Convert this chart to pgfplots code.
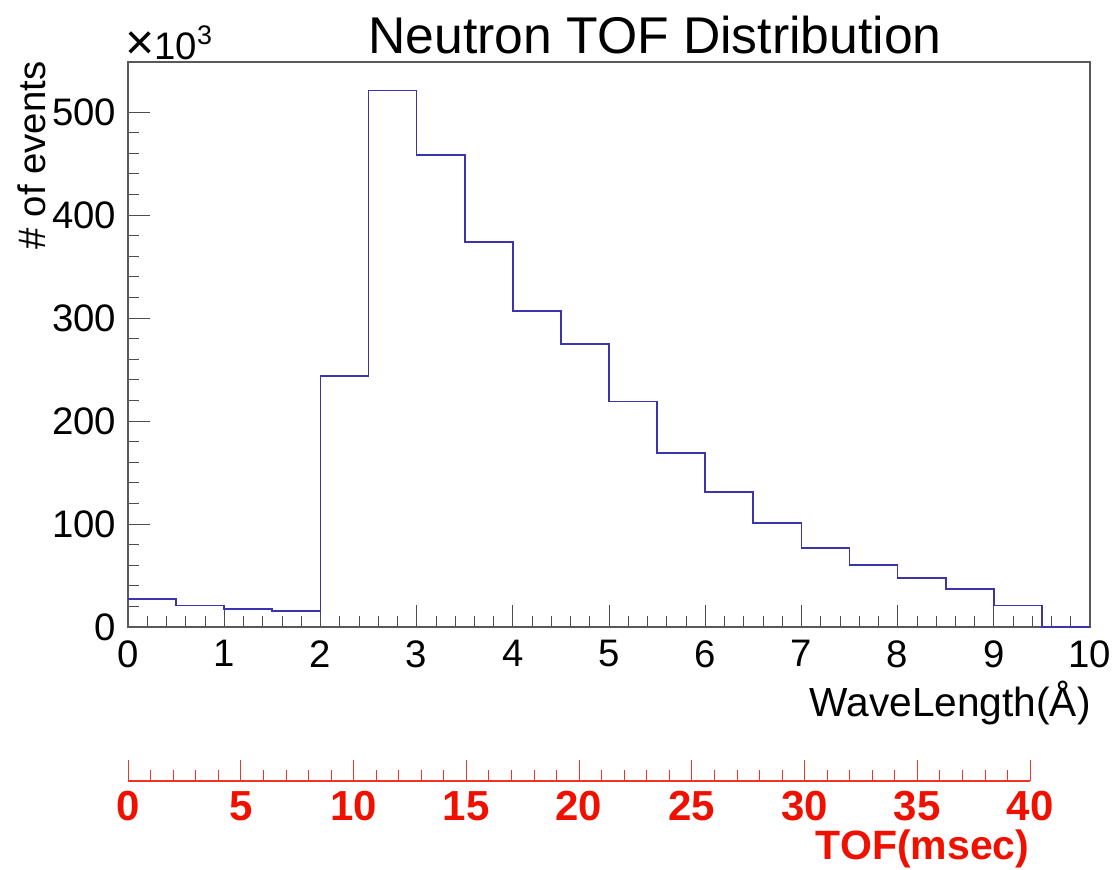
\documentclass[border=0pt]{standalone}
\usepackage{pgfplots}
\pgfplotsset{compat=1.18}
\usepackage{fontspec}
\setmainfont{Liberation Sans}
\definecolor{histblue}{RGB}{60,52,170}
\definecolor{rootred}{RGB}{240,16,0}
\begin{document}
\begin{tikzpicture}
\useasboundingbox (-38.4pt,-72.6pt) rectangle (296.4pt,188.1pt);
\begin{axis}[
  at={(0pt,0pt)}, anchor=south west,
  scale only axis, width=288.6pt, height=169.5pt,
  xmin=0, xmax=10, ymin=0, ymax=548.5,
  xtick={0,1,...,10}, ytick={0,100,...,500},
  minor x tick num=4, minor y tick num=4,
  tick pos=left, tick align=inside,
  major tick length=6.6pt, minor tick length=3.3pt,
  axis line style={black!65}, tick style={black!70},
  every tick label/.style={font=\fontsize{11.5}{12}\selectfont},
  /pgf/number format/assume math mode=true,
  xticklabel style={yshift=-0.5pt},
  clip=false,
]
\addplot[const plot, histblue, line width=0.5pt] coordinates {
(0,27) (0.5,21) (1,17.5) (1.5,15.5) (2,243.5) (2.5,521) (3,458) (3.5,374)
(4,307) (4.5,275) (5,219) (5.5,169) (6,131) (6.5,101) (7,77) (7.5,60)
(8,47.5) (8.5,37) (9,21) (9.5,0) (10,0)
};
\end{axis}
\begin{axis}[
  at={(0pt,-46.2pt)}, anchor=south west,
  scale only axis, width=270.6pt, height=10pt,
  xmin=0, xmax=40, ymin=0, ymax=1,
  axis x line=bottom, hide y axis,
  axis line style={-, rootred!85}, tick style={rootred!85},
  xtick={0,5,...,40}, minor x tick num=4,
  tick align=inside,
  major tick length=6.3pt, minor tick length=3.3pt,
  every tick label/.style={font=\bfseries\fontsize{12.6}{13}\selectfont, text=rootred},
  /pgf/number format/assume math mode=true,
  xticklabel style={yshift=0.5pt},
]
\addplot[draw=none] coordinates {(0,0) (40,1)};
\end{axis}
\node[font=\fontsize{15.5}{16}\selectfont] at (158.1pt,177.6pt) {Neutron TOF Distribution};
\node[anchor=west, font=\fontsize{11.5}{12}\selectfont, inner sep=0pt] at (-1pt,175.2pt) {{\fontsize{15}{15}\selectfont ×}10\textsuperscript{3}};
\node[rotate=90, anchor=east, font=\fontsize{11.5}{12}\selectfont, inner sep=0pt] at (-28.8pt,169.8pt) {\# of events};
\node[anchor=east, font=\fontsize{12.2}{13}\selectfont, inner sep=0pt] at (289pt,-22.8pt) {WaveLength(Å)};
\node[anchor=east, font=\bfseries\fontsize{12.3}{13}\selectfont, text=rootred, inner sep=0pt] at (270.6pt,-66.6pt) {TOF(msec)};
\end{tikzpicture}
\end{document}
